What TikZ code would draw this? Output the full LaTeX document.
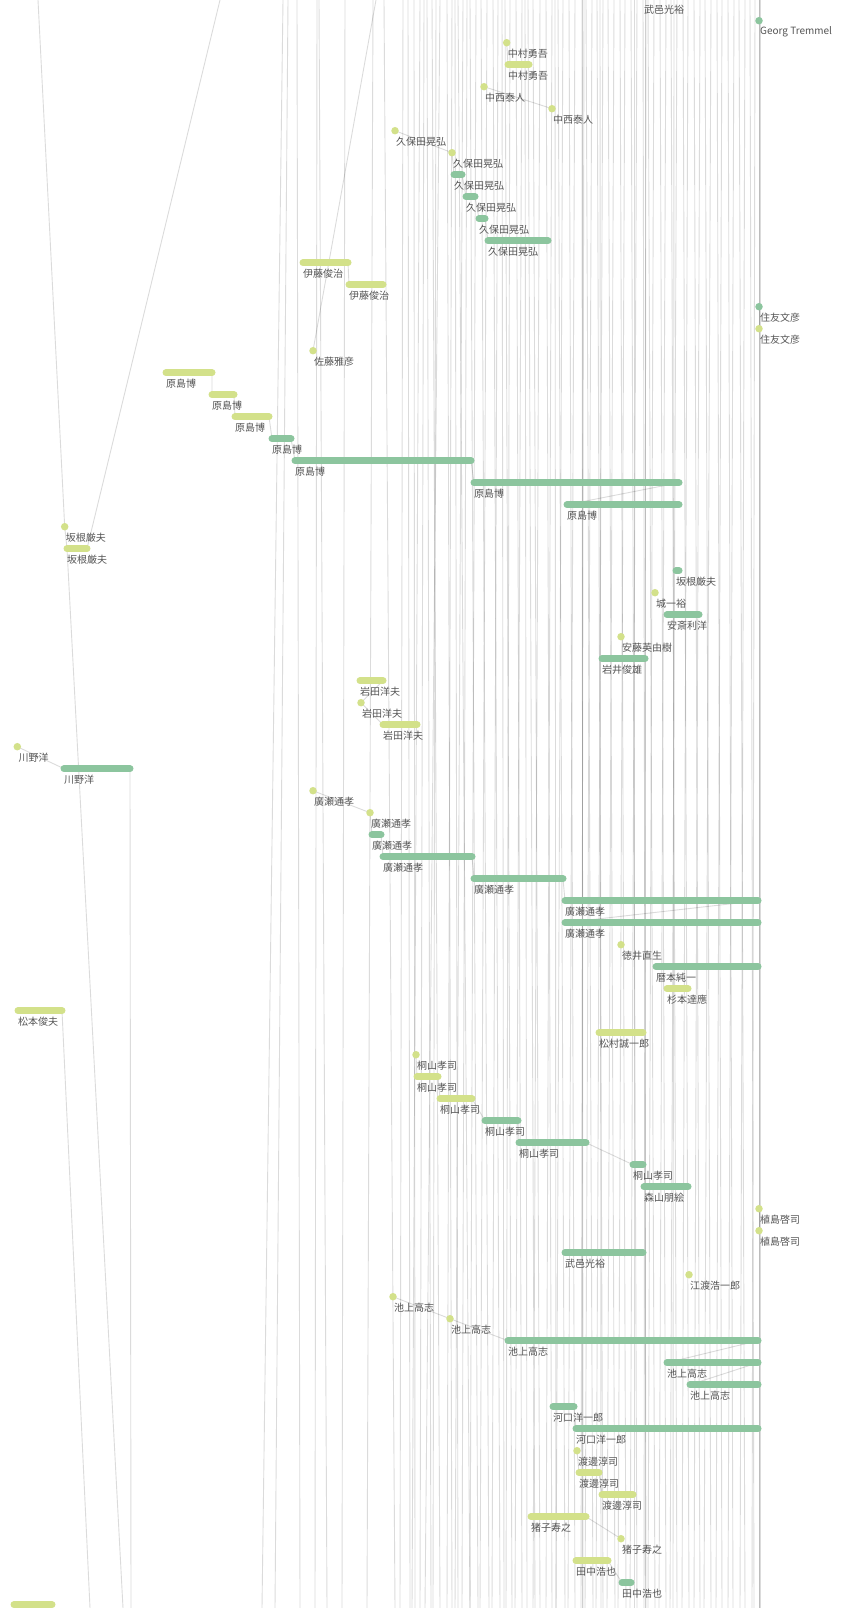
\documentclass[tikz,border=0pt]{standalone}
\usepackage{fontspec}
\setmainfont{Noto Sans CJK JP}
\definecolor{ylw}{HTML}{D3E18A}
\definecolor{grn}{HTML}{8CC59E}
\definecolor{lblgray}{HTML}{555555}
\pgfdeclarelayer{paper}
\pgfdeclarelayer{bg}
\pgfsetlayers{paper,bg,main}
% bar item: style, name, start x, end x, row, label
\newcommand{\tlbar}[6]{%
  \coordinate (#2s) at (#3,20.7+22*#5);
  \coordinate (#2e) at (#4,20.7+22*#5);
  \draw[#1] (#2s) -- (#2e);
  \node[lbl] (#2l) at (#3,31.7+22*#5) {#6};}
% dot item: style, name, x, row, label
\newcommand{\tldot}[5]{%
  \node[#1] (#2) at (#3,20.7+22*#4) {};
  \coordinate (#2s) at (#2.center);
  \coordinate (#2e) at (#2.center);
  \node[lbl] (#2l) at (#3+1,31.7+22*#4) {#5};}

\begin{document}
\begin{tikzpicture}[x=1pt, y=-1pt,
    ybar/.style={draw=ylw, line width=7pt, line cap=round},
    gbar/.style={draw=grn, line width=7pt, line cap=round},
    ydot/.style={circle, fill=ylw, minimum size=7.5pt, inner sep=0pt},
    gdot/.style={circle, fill=grn, minimum size=7.5pt, inner sep=0pt},
    lbl/.style={anchor=west, inner sep=0pt, text=lblgray, font=\fontsize{10}{12}\selectfont},
    link/.style={draw=black, opacity=0.14, line width=0.9pt}]
\begin{pgfonlayer}{paper}
  \fill[white] (0,0) rectangle (841,1608);
\end{pgfonlayer}
\useasboundingbox (0,0) rectangle (841,1608);

% items, one row each
\node[lbl] (tktop) at (644,9.7) {武邑光裕};
\tldot{gdot}{gt}{759}{0}{Georg Tremmel}
\tldot{ydot}{nm1}{506.7}{1}{中村勇吾}
\tlbar{ybar}{nm2}{508}{529}{2}{中村勇吾}
\tldot{ydot}{nn1}{484}{3}{中西泰人}
\tldot{ydot}{nn2}{552}{4}{中西泰人}
\tldot{ydot}{kb1}{395}{5}{久保田晃弘}
\tldot{ydot}{kb2}{452}{6}{久保田晃弘}
\tlbar{gbar}{kb3}{454}{462}{7}{久保田晃弘}
\tlbar{gbar}{kb4}{466}{475}{8}{久保田晃弘}
\tlbar{gbar}{kb5}{479}{485}{9}{久保田晃弘}
\tlbar{gbar}{kb6}{488}{548}{10}{久保田晃弘}
\tlbar{ybar}{it1}{303}{348}{11}{伊藤俊治}
\tlbar{ybar}{it2}{349}{383}{12}{伊藤俊治}
\tldot{gdot}{sm1}{759}{13}{住友文彦}
\tldot{ydot}{sm2}{759}{14}{住友文彦}
\tldot{ydot}{st1}{313}{15}{佐藤雅彦}
\tlbar{ybar}{hj1}{166}{212}{16}{原島博}
\tlbar{ybar}{hj2}{212}{234}{17}{原島博}
\tlbar{ybar}{hj3}{235}{269}{18}{原島博}
\tlbar{gbar}{hj4}{272}{291}{19}{原島博}
\tlbar{gbar}{hj5}{295}{471}{20}{原島博}
\tlbar{gbar}{hj6}{474}{679}{21}{原島博}
\tlbar{gbar}{hj7}{567}{679}{22}{原島博}
\tldot{ydot}{sk1}{64.7}{23}{坂根厳夫}
\tlbar{ybar}{sk2}{67}{87}{24}{坂根厳夫}
\tlbar{gbar}{sk3}{676}{679}{25}{坂根厳夫}
\tldot{ydot}{jo1}{655}{26}{城一裕}
\tlbar{gbar}{an1}{667}{699}{27}{安斎利洋}
\tldot{ydot}{ad1}{621}{28}{安藤英由樹}
\tlbar{gbar}{iw1}{602}{645}{29}{岩井俊雄}
\tlbar{ybar}{ia1}{360}{383}{30}{岩田洋夫}
\tldot{ydot}{ia2}{361}{31}{岩田洋夫}
\tlbar{ybar}{ia3}{383}{417}{32}{岩田洋夫}
\tldot{ydot}{kw1}{17.3}{33}{川野洋}
\tlbar{gbar}{kw2}{64}{130}{34}{川野洋}
\tldot{ydot}{hr1}{313}{35}{廣瀬通孝}
\tldot{ydot}{hr2}{370}{36}{廣瀬通孝}
\tlbar{gbar}{hr3}{372}{381}{37}{廣瀬通孝}
\tlbar{gbar}{hr4}{383}{472}{38}{廣瀬通孝}
\tlbar{gbar}{hr5}{474}{563}{39}{廣瀬通孝}
\tlbar{gbar}{hr6}{565}{758}{40}{廣瀬通孝}
\tlbar{gbar}{hr7}{565}{758}{41}{廣瀬通孝}
\tldot{ydot}{tk1}{621}{42}{徳井直生}
\tlbar{gbar}{rk1}{656}{758}{43}{暦本純一}
\tlbar{ybar}{sg1}{667}{688}{44}{杉本達應}
\tlbar{ybar}{mt1}{18}{62}{45}{松本俊夫}
\tlbar{ybar}{ms1}{599}{643}{46}{松村誠一郎}
\tldot{ydot}{ky1}{416}{47}{桐山孝司}
\tlbar{ybar}{ky2}{417}{438}{48}{桐山孝司}
\tlbar{ybar}{ky3}{440}{472}{49}{桐山孝司}
\tlbar{gbar}{ky4}{485}{518}{50}{桐山孝司}
\tlbar{gbar}{ky5}{519}{586}{51}{桐山孝司}
\tlbar{gbar}{ky6}{633}{643}{52}{桐山孝司}
\tlbar{gbar}{mr1}{644}{688}{53}{森山朋絵}
\tldot{ydot}{us1}{759}{54}{植島啓司}
\tldot{ydot}{us2}{759}{55}{植島啓司}
\tlbar{gbar}{tm1}{565}{643}{56}{武邑光裕}
\tldot{ydot}{et1}{689}{57}{江渡浩一郎}
\tldot{ydot}{ik1}{393}{58}{池上高志}
\tldot{ydot}{ik2}{450}{59}{池上高志}
\tlbar{gbar}{ik3}{508}{758}{60}{池上高志}
\tlbar{gbar}{ik4}{667}{758}{61}{池上高志}
\tlbar{gbar}{ik5}{690}{758}{62}{池上高志}
\tlbar{gbar}{kg1}{553}{574}{63}{河口洋一郎}
\tlbar{gbar}{kg2}{576}{758}{64}{河口洋一郎}
\tldot{ydot}{wt1}{577}{65}{渡邊淳司}
\tlbar{ybar}{wt2}{579}{599}{66}{渡邊淳司}
\tlbar{ybar}{wt3}{602}{633}{67}{渡邊淳司}
\tlbar{ybar}{io1}{531}{586}{68}{猪子寿之}
\tldot{ydot}{io2}{621}{69}{猪子寿之}
\tlbar{ybar}{tn1}{576}{608}{70}{田中浩也}
\tlbar{gbar}{tn2}{622}{631}{71}{田中浩也}
\tlbar{ybar}{bl1}{14}{52}{72}{}

% free ends of the connectors that leave the picture
\coordinate (sktop) at (38,0);
\coordinate (sktop2) at (220,0);
\coordinate (skbot) at (123,1608);
\coordinate (mtbot) at (90,1608);
\coordinate (kwbot) at (131,1608);
\coordinate (sttop) at (376,0);

\begin{pgfonlayer}{bg}
  % background strands
  \foreach \a/\b in {283/262, 288/275, 297/300, 317/315, 319/327, 345/342, 373/367, 384/395,
      403/400, 408/410, 414/415, 420/412, 424/420, 427/431, 432/440, 436/433, 440/425, 447/452,
      452/447, 455/458, 458/470, 463/455, 467/462, 470/478, 476/470, 481/489, 487/480, 493/500,
      498/492, 502/504, 505/512, 510/506, 516/522, 522/515, 525/527, 528/535, 533/540, 540/533,
      546/552, 552/546, 555/556, 558/565, 563/556, 569/575, 575/568, 582/582, 582/583, 584/581,
      586/593, 592/585, 597/603, 600/601, 603/596, 608/615, 614/607, 620/626, 625/618,
      631/637, 634/634, 637/630, 643/646, 645/645, 646/644, 648/655, 654/648, 660/666, 666/659,
      671/677, 674/673, 677/670, 683/689, 688/682, 694/700, 700/694, 705/711, 711/704,
      717/722, 722/716, 728/733, 734/728, 739/745, 745/740, 750/754, 755/752,
      759/759, 759/759, 760/760}
    \draw[link] (\a,0) -- (\b,1608);
  % connectors
  \draw[link] (sktop) -- (sk1s) -- (sk2s) -- (skbot);
  \draw[link] (sk2e) -- (sktop2);
  \draw[link] (mt1e) -- (mtbot);
  \draw[link] (kw1e) -- (kw2s);
  \draw[link] (kw2e) -- (kwbot);
  \draw[link] (st1e) -- (sttop);
  \draw[link] (nm1e) -- (nm2s);
  \draw[link] (nn1e) -- (nn2s);
  \draw[link] (kb1e) -- (kb2s) -- (kb3s) (kb3e) -- (kb4s) (kb4e) -- (kb5s) (kb5e) -- (kb6s);
  \draw[link] (it1e) -- (it2s);
  \draw[link] (sm1e) -- (sm2s);
  \draw[link] (hj1e) -- (hj2s) (hj2e) -- (hj3s) (hj3e) -- (hj4s) (hj4e) -- (hj5s)
    (hj5e) -- (hj6s) (hj6e) -- (hj7s);
  \draw[link] (ia1e) -- (ia2s) -- (ia3s);
  \draw[link] (hr1e) -- (hr2s) -- (hr3s) (hr3e) -- (hr4s) (hr4e) -- (hr5s)
    (hr5e) -- (hr6s) (hr6e) -- (hr7s);
  \draw[link] (ky1e) -- (ky2s) (ky2e) -- (ky3s) (ky3e) -- (ky4s) (ky4e) -- (ky5s)
    (ky5e) -- (ky6s);
  \draw[link] (us1e) -- (us2s);
  \draw[link] (ik1e) -- (ik2s) -- (ik3s) (ik3e) -- (ik4s) (ik4e) -- (ik5s);
  \draw[link] (kg1e) -- (kg2s);
  \draw[link] (wt1e) -- (wt2s) (wt2e) -- (wt3s);
  \draw[link] (io1e) -- (io2s);
  \draw[link] (tn1e) -- (tn2s);
\end{pgfonlayer}
\end{tikzpicture}
\end{document}
